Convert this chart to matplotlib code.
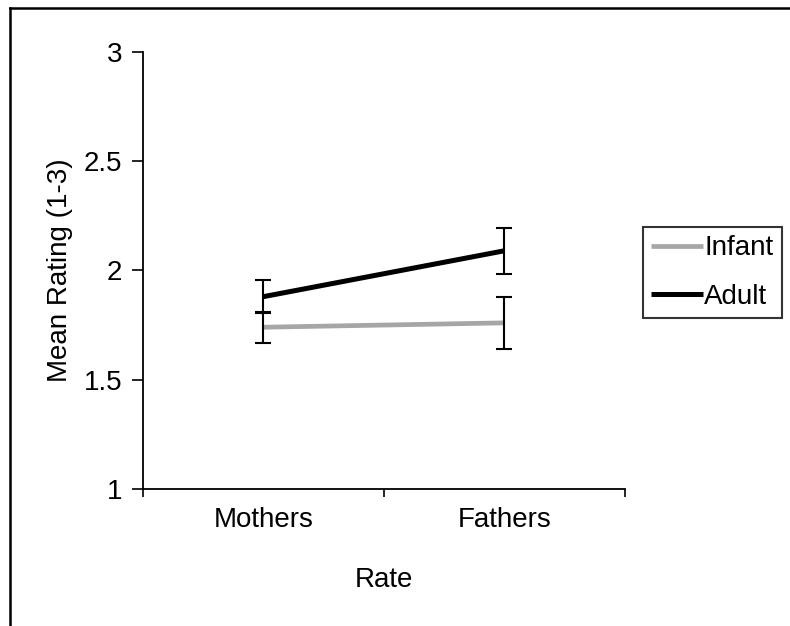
import matplotlib.pyplot as plt
from matplotlib.lines import Line2D

# Mean ratings (1-3) by rater, with error bar half-widths
raters = ['Mothers', 'Fathers']
infant_mean = [1.74, 1.76]
infant_err = [0.07, 0.12]
adult_mean = [1.88, 2.09]
adult_err = [0.075, 0.105]

plt.rcParams['font.family'] = ['Liberation Sans', 'DejaVu Sans']
plt.rcParams['font.size'] = 20

fig = plt.figure(figsize=(7.9, 6.26), dpi=100)
ax = fig.add_axes([0.181, 0.219, 0.610, 0.698])

x = [0.5, 1.5]

ax.plot(x, infant_mean, color='#a6a6a6', linewidth=3.4, label='Infant',
        solid_capstyle='butt', zorder=2)
ax.plot(x, adult_mean, color='black', linewidth=3.6, label='Adult',
        solid_capstyle='butt', zorder=2)
ax.errorbar(x, infant_mean, yerr=infant_err, fmt='none', ecolor='black',
            elinewidth=1.5, capsize=5.5, capthick=1.5, zorder=3)
ax.errorbar(x, adult_mean, yerr=adult_err, fmt='none', ecolor='black',
            elinewidth=1.5, capsize=5.5, capthick=1.5, zorder=3)

ax.set_xlim(0, 2)
ax.set_ylim(1, 3)
ax.set_yticks([1, 1.5, 2, 2.5, 3])
ax.set_yticklabels(['1', '1.5', '2', '2.5', '3'])
ax.set_xticks([0, 1, 2])
ax.set_xticklabels([])
ax.set_xticks(x, minor=True)
ax.set_xticklabels(raters, minor=True)
ax.tick_params(axis='x', which='minor', length=0, pad=13)
ax.tick_params(axis='x', which='major', direction='out', length=6, width=1.2)
ax.tick_params(axis='y', direction='out', length=8, width=1.2, pad=7)

for side in ['top', 'right']:
    ax.spines[side].set_visible(False)
for side in ['left', 'bottom']:
    ax.spines[side].set_linewidth(1.3)

ax.set_ylabel('Mean Rating (1-3)', va='center')
ax.yaxis.set_label_coords(-0.172, 0.5)
ax.set_xlabel('Rate')
ax.xaxis.set_label_coords(0.5, -0.178)

leg = ax.legend(loc='upper left', bbox_to_anchor=(643 / 790, 1 - 227 / 626),
                bbox_transform=fig.transFigure, frameon=True, fancybox=False,
                handlelength=1.85, handletextpad=0.06, borderaxespad=0,
                borderpad=0.3, labelspacing=0.8)
leg.get_frame().set_edgecolor('black')
leg.get_frame().set_linewidth(1.5)

# outer frame lines along the top and left edges
fig.add_artist(Line2D([10 / 790, 1], [1 - 8 / 626, 1 - 8 / 626],
                      color='black', linewidth=1.8, transform=fig.transFigure))
fig.add_artist(Line2D([10 / 790, 10 / 790], [0, 1 - 8 / 626],
                      color='black', linewidth=1.8, transform=fig.transFigure))

fig.savefig('out.png', dpi=100)
